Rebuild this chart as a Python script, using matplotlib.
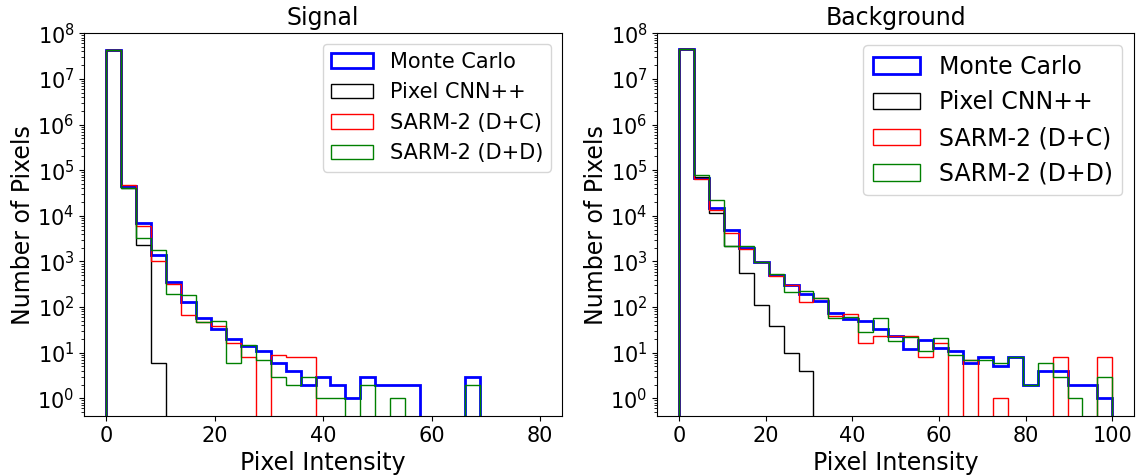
import numpy as np
import matplotlib
matplotlib.use("Agg")
import matplotlib.pyplot as plt
from matplotlib.ticker import LogLocator, NullFormatter

# bin counts, 29 bins each
sig_edges = np.linspace(0, 80, 30)
bkg_edges = np.linspace(0, 100, 30)

sig_mc = [4.4e7, 4.5e4, 6800, 1410, 355, 132, 57, 33, 20, 14, 11, 6, 4, 2, 3,
          2, 1, 3, 2, 2, 2, 0, 0, 0, 3, 0, 0, 0, 0]
sig_cnn = [4.4e7, 4.05e4, 2260, 6, 0, 0, 0, 0, 0, 0, 0, 0, 0, 0, 0,
           0, 0, 0, 0, 0, 0, 0, 0, 0, 0, 0, 0, 0, 0]
sig_dc = [4.4e7, 4.8e4, 5900, 1000, 325, 68, 46, 39, 16, 8, 0, 9, 8, 8, 0,
          0, 0, 0, 0, 0, 0, 0, 0, 0, 0, 0, 0, 0, 0]
sig_dd = [4.4e7, 4.05e4, 3200, 1750, 193, 180, 48, 50, 6, 15, 7, 3, 2, 3, 1,
          1, 0, 2, 0, 1, 0, 0, 0, 0, 2, 0, 0, 0, 0]

bkg_mc = [4.5e7, 6.6e4, 14500, 4800, 2000, 955, 515, 310, 196, 137, 74, 55, 50, 33, 23,
          12, 19, 13, 11, 6, 8, 5, 8, 2, 4, 4, 2, 2, 1]
bkg_cnn = [4.5e7, 7.0e4, 11600, 2200, 560, 112, 39, 10, 4, 0, 0, 0, 0, 0, 0,
           0, 0, 0, 0, 0, 0, 0, 0, 0, 0, 0, 0, 0, 0]
bkg_dc = [4.5e7, 6.3e4, 13200, 4100, 1900, 980, 490, 310, 132, 162, 65, 70, 16, 23, 23,
          23, 8, 16, 0, 7, 0, 1, 0, 0, 0, 8, 0, 0, 8]
bkg_dd = [4.5e7, 7.8e4, 22000, 2200, 2200, 990, 540, 210, 229, 158, 57, 62, 29, 58, 18,
          22, 11, 21, 9, 7, 7, 6, 8, 2, 6, 3, 1, 0, 3]

labels = ["Monte Carlo", "Pixel CNN++", "SARM-2 (D+C)", "SARM-2 (D+D)"]
colors = ["blue", "black", "red", "green"]
widths = [2, 1, 1, 1]

fig = plt.figure(figsize=(11.41, 4.75), dpi=100)
ax1 = fig.add_axes([0.0739, 0.1242, 0.4184, 0.8057])
ax2 = fig.add_axes([0.5761, 0.1242, 0.4178, 0.8057])

panels = [
    (ax1, sig_edges, [sig_mc, sig_cnn, sig_dc, sig_dd], "Signal", 15),
    (ax2, bkg_edges, [bkg_mc, bkg_cnn, bkg_dc, bkg_dd], "Background", 17),
]

for ax, edges, series, title, legsize in panels:
    centers = 0.5 * (edges[:-1] + edges[1:])
    for counts, lab, col, lw in zip(series, labels, colors, widths):
        ax.hist(centers, bins=edges, weights=counts, histtype="step",
                log=True, color=col, linewidth=lw, label=lab)
    ax.set_yscale("log", nonpositive="clip")
    ax.set_ylim(0.41, 1e8)
    ax.set_xlim(-0.05 * edges[-1], 1.05 * edges[-1])
    ax.set_yticks([10.0 ** k for k in range(9)])
    ax.yaxis.set_minor_locator(LogLocator(base=10, subs=np.arange(2, 10), numticks=100))
    ax.yaxis.set_minor_formatter(NullFormatter())
    ax.set_title(title, fontsize=17)
    ax.set_xlabel("Pixel Intensity", fontsize=17)
    ax.set_ylabel("Number of Pixels", fontsize=17, labelpad=2)
    ax.tick_params(axis="both", which="major", labelsize=15)
    ax.legend(loc="upper right", fontsize=legsize)

plt.savefig("out.png", dpi=100)
